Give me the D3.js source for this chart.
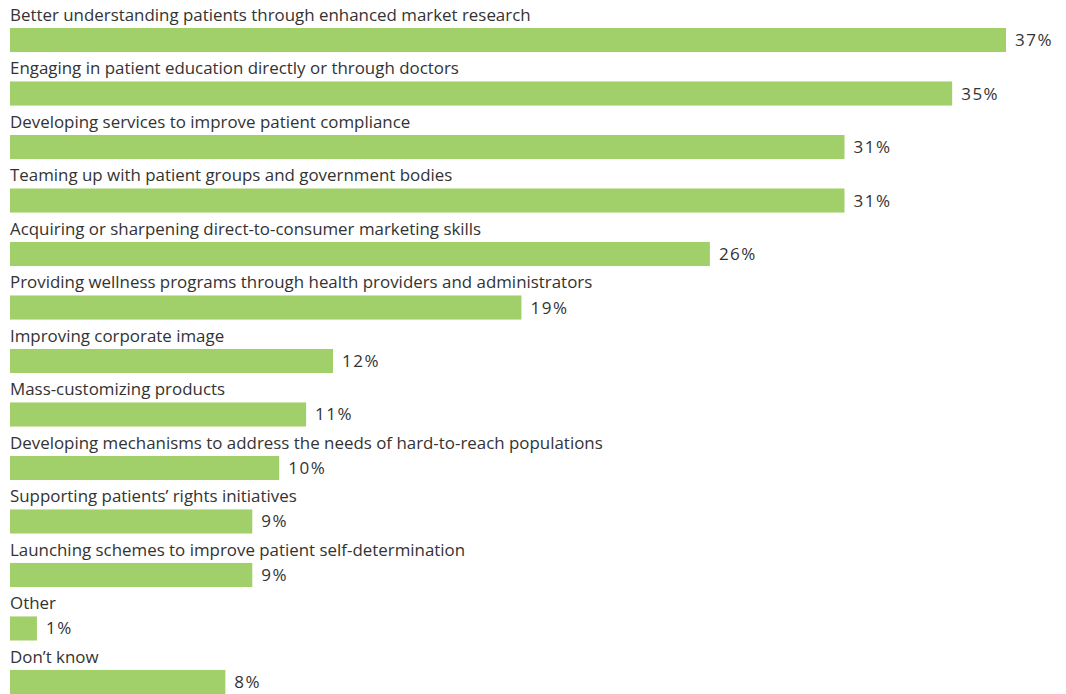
<!DOCTYPE html>
<html>
<head>
<meta charset="utf-8">
<script src="https://cdn.jsdelivr.net/npm/d3@7"></script>
<style>
  html, body { margin: 0; padding: 0; background: #fff; }
  svg text { font-family: "Open Sans", "Noto Sans", sans-serif; fill: #333; }
</style>
</head>
<body>
<svg id="chart" width="1066" height="694"></svg>
<script>
// Survey responses (share of respondents)
const categories = [
  "Better understanding patients through enhanced market research",
  "Engaging in patient education directly or through doctors",
  "Developing services to improve patient compliance",
  "Teaming up with patient groups and government bodies",
  "Acquiring or sharpening direct-to-consumer marketing skills",
  "Providing wellness programs through health providers and administrators",
  "Improving corporate image",
  "Mass-customizing products",
  "Developing mechanisms to address the needs of hard-to-reach populations",
  "Supporting patients\u2019 rights initiatives",
  "Launching schemes to improve patient self-determination",
  "Other",
  "Don\u2019t know"
];
const values = [37, 35, 31, 31, 26, 19, 12, 11, 10, 9, 9, 1, 8];

const svg = d3.select("#chart");

const x = d3.scaleLinear().domain([0, 37]).range([10, 1006]);
const y = d3.scaleBand().domain(categories).range([28, 694]).paddingInner(0.55).paddingOuter(0);

const rows = svg.selectAll("g.row")
  .data(categories.map((c, i) => ({ c, v: values[i] })))
  .join("g")
  .attr("class", "row");

rows.append("rect")
  .attr("x", x(0))
  .attr("y", d => y(d.c))
  .attr("width", d => x(d.v) - x(0))
  .attr("height", y.bandwidth())
  .attr("fill", "#a1cf69");

rows.append("text")
  .attr("x", x(0))
  .attr("y", d => y(d.c) - 7)
  .attr("font-size", 16.9)
  .text(d => d.c);

rows.append("text")
  .attr("x", d => x(d.v) + 9)
  .attr("y", d => y(d.c) + y.bandwidth() / 2 + 6)
  .attr("font-size", 17)
  .attr("letter-spacing", 1.5)
  .text(d => d.v + "%");
</script>
</body>
</html>
